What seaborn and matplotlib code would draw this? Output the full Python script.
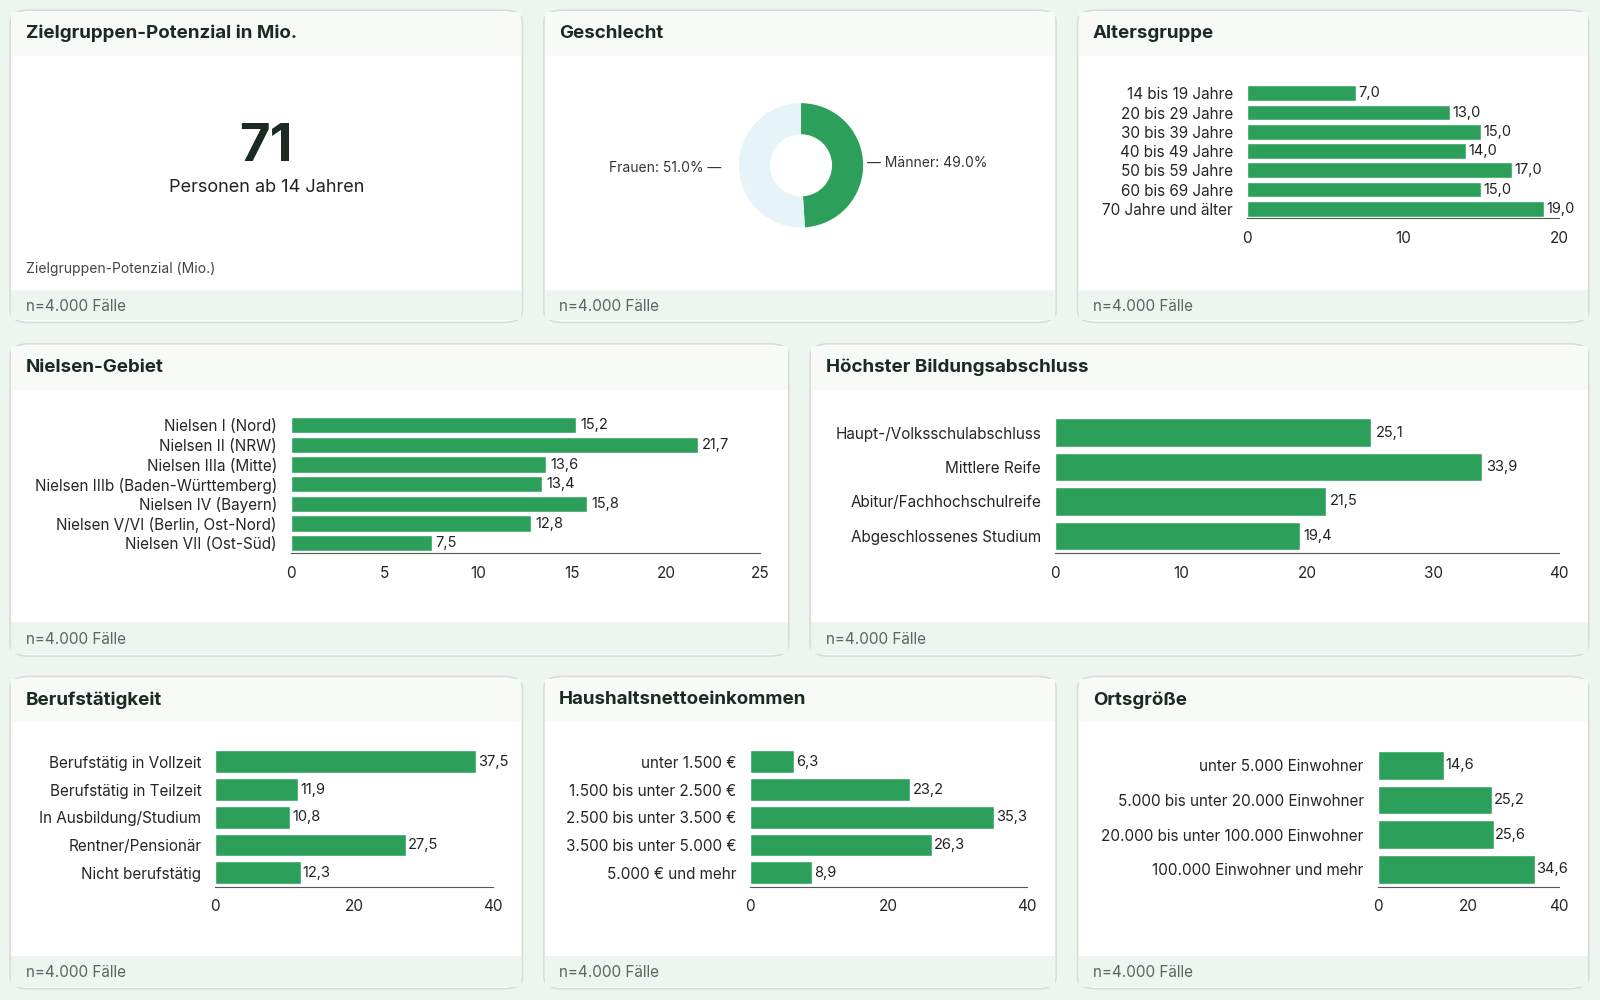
import matplotlib.pyplot as plt
from matplotlib.patches import FancyBboxPatch, Rectangle
import pandas as pd
import seaborn as sns

GREEN = '#2ca05a'
# reference pixel grid
W, H = 1568, 980

alter_labels = ['14 bis 19 Jahre', '20 bis 29 Jahre', '30 bis 39 Jahre', '40 bis 49 Jahre',
                '50 bis 59 Jahre', '60 bis 69 Jahre', '70 Jahre und älter']
alter_values = [7.0, 13.0, 15.0, 14.0, 17.0, 15.0, 19.0]

nielsen_labels = ['Nielsen I (Nord)', 'Nielsen II (NRW)', 'Nielsen IIIa (Mitte)',
                  'Nielsen IIIb (Baden-Württemberg)', 'Nielsen IV (Bayern)',
                  'Nielsen V/VI (Berlin, Ost-Nord)', 'Nielsen VII (Ost-Süd)']
nielsen_values = [15.2, 21.7, 13.6, 13.4, 15.8, 12.8, 7.5]

bildung_labels = ['Haupt-/Volksschulabschluss', 'Mittlere Reife', 'Abitur/Fachhochschulreife',
                  'Abgeschlossenes Studium']
bildung_values = [25.1, 33.9, 21.5, 19.4]

beruf_labels = ['Berufstätig in Vollzeit', 'Berufstätig in Teilzeit', 'In Ausbildung/Studium',
                'Rentner/Pensionär', 'Nicht berufstätig']
beruf_values = [37.5, 11.9, 10.8, 27.5, 12.3]

eink_labels = ['unter 1.500 €', '1.500 bis unter 2.500 €', '2.500 bis unter 3.500 €',
               '3.500 bis unter 5.000 €', '5.000 € und mehr']
eink_values = [6.3, 23.2, 35.3, 26.3, 8.9]

ort_labels = ['unter 5.000 Einwohner', '5.000 bis unter 20.000 Einwohner',
              '20.000 bis unter 100.000 Einwohner', '100.000 Einwohner und mehr']
ort_values = [14.6, 25.2, 25.6, 34.6]

gender_labels = ['Männer', 'Frauen']
gender_values = [49.0, 51.0]

sns.set_style('white')
plt.rcParams['font.family'] = ['Inter', 'DejaVu Sans']

fig = plt.figure(figsize=(16, 10), dpi=100)
fig.patch.set_facecolor('#eef4ee')


def fx(x):
    return x / W


def fy(y):
    return 1 - y / H


def card(x0, y0, x1, y1, title, foot_y, footer='n=4.000 Fälle'):
    fig.patches.append(FancyBboxPatch((fx(x0), fy(y1)), fx(x1 - x0), (y1 - y0) / H,
                                      boxstyle='round,pad=0,rounding_size=0.012',
                                      transform=fig.transFigure, facecolor='white',
                                      edgecolor='#d6ddd6', linewidth=1.2, zorder=0))
    fig.patches.append(Rectangle((fx(x0 + 1), fy(y0 + 45)), fx(x1 - x0 - 2), 43 / H,
                                 transform=fig.transFigure, facecolor='#f7faf7',
                                 edgecolor='none', zorder=0.5))
    fig.patches.append(Rectangle((fx(x0 + 1), fy(y1 - 2)), fx(x1 - x0 - 2), (y1 - 2 - foot_y) / H,
                                 transform=fig.transFigure, facecolor='#eef4ee',
                                 edgecolor='none', zorder=0.5))
    fig.text(fx(x0 + 15), fy(y0 + 23), title, fontsize=13.5, fontweight='bold',
             color='#1b2b22', va='center')
    fig.text(fx(x0 + 15), fy((foot_y + y1) / 2), footer, fontsize=11,
             color='#5a6660', va='center')


def barchart(labels, values, xmax, ticks, box, fs=11):
    x0, y0, x1, y1 = box
    ax = fig.add_axes([fx(x0), fy(y1), fx(x1 - x0), (y1 - y0) / H])
    ax.set_zorder(2)
    df = pd.DataFrame({'label': labels, 'value': values})
    sns.barplot(data=df, x='value', y='label', orient='h', color=GREEN,
                saturation=1, width=0.82, ax=ax)
    ax.set_xlim(0, xmax)
    ax.set_xticks(ticks)
    ax.set_xlabel('')
    ax.set_ylabel('')
    ax.patch.set_alpha(0)
    for s in ['top', 'right', 'left']:
        ax.spines[s].set_visible(False)
    ax.spines['bottom'].set_color('#555555')
    ax.tick_params(axis='x', length=5, labelsize=11, color='#555555', pad=4)
    ax.tick_params(axis='y', length=0, labelsize=fs, pad=10)
    for i, v in enumerate(values):
        ax.text(v + xmax * 0.008, i, f'{v:.1f}'.replace('.', ','), va='center',
                ha='left', fontsize=10.5, color='#222222')
    return ax


# row 1
card(10, 10, 512, 316, 'Zielgruppen-Potenzial in Mio.', 284)
fig.text(fx(261), fy(145), '71', fontsize=38, fontweight='bold', ha='center',
         va='center', color='#1b2b22')
fig.text(fx(261), fy(184), 'Personen ab 14 Jahren', fontsize=13, ha='center',
         va='center', color='#222222')
fig.text(fx(25), fy(264), 'Zielgruppen-Potenzial (Mio.)', fontsize=10, color='#444444',
         va='center')

card(533, 10, 1035, 316, 'Geschlecht', 284)
axp = fig.add_axes([fx(715), fy(232), fx(140), 140 / H])
axp.set_zorder(2)
axp.pie(gender_values, colors=[GREEN, '#e6f3f8'], startangle=90, counterclock=False,
        radius=1.0, wedgeprops=dict(width=0.5, edgecolor='none'))
axp.set_xlim(-1.15, 1.15)
axp.set_ylim(-1.15, 1.15)
axp.set_aspect('equal')
fig.text(fx(707), fy(165), f'Frauen: {gender_values[1]:.1f}% —', fontsize=10,
         ha='right', va='center', color='#333333')
fig.text(fx(850), fy(160), f'— Männer: {gender_values[0]:.1f}%', fontsize=10,
         ha='left', va='center', color='#333333')

card(1056, 10, 1557, 316, 'Altersgruppe', 284)
barchart(alter_labels, alter_values, 20, [0, 10, 20], (1222, 82, 1528, 214))

# row 2
card(10, 337, 773, 643, 'Nielsen-Gebiet', 610)
barchart(nielsen_labels, nielsen_values, 25, [0, 5, 10, 15, 20, 25], (285, 407, 745, 542))

card(794, 337, 1557, 643, 'Höchster Bildungsabschluss', 610)
barchart(bildung_labels, bildung_values, 40, [0, 10, 20, 30, 40], (1034, 407, 1528, 542))

# row 3
card(10, 663, 512, 969, 'Berufstätigkeit', 937)
barchart(beruf_labels, beruf_values, 40, [0, 20, 40], (211, 733, 483, 869))

card(533, 663, 1035, 969, 'Haushaltsnettoeinkommen', 937)
barchart(eink_labels, eink_values, 40, [0, 20, 40], (735, 733, 1006, 869))

card(1056, 663, 1557, 969, 'Ortsgröße', 937)
barchart(ort_labels, ort_values, 40, [0, 20, 40], (1350, 733, 1528, 869))

fig.savefig('out.png', dpi=100, facecolor=fig.get_facecolor())
